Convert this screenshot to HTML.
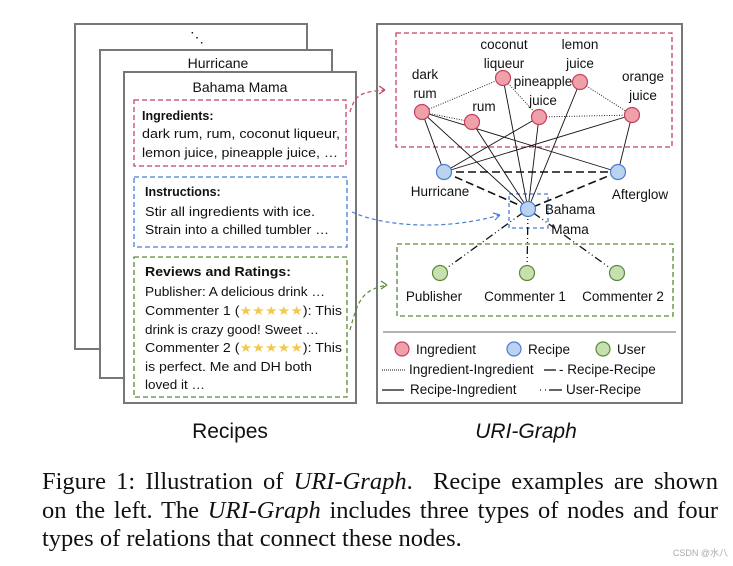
<!DOCTYPE html>
<html><head><meta charset="utf-8"><style>
html,body{margin:0;padding:0;background:#fff;width:733px;height:566px;overflow:hidden;position:relative}
svg{display:block}
.c{font-family:"Liberation Sans",sans-serif;fill:#111}
.cap{position:absolute;left:42px;width:676px;font-family:"Liberation Serif",serif;font-size:24.5px;color:#111;line-height:28px;white-space:nowrap}
.j{text-align:justify;text-align-last:justify;white-space:normal}
</style></head><body>
<svg width="733" height="566" viewBox="0 0 733 566">
<rect x="75" y="24" width="232" height="325" fill="#fff" stroke="#777" stroke-width="2"/>
<text x="197" y="42" class="c" font-size="14" text-anchor="middle">⋱</text>
<rect x="100" y="50" width="232" height="328" fill="#fff" stroke="#777" stroke-width="2"/>
<text x="218" y="68" class="c" font-size="14" text-anchor="middle">Hurricane</text>
<rect x="124" y="72" width="232" height="331" fill="#fff" stroke="#777" stroke-width="2"/>
<text x="240" y="92" class="c" font-size="14" text-anchor="middle">Bahama Mama</text>
<rect x="134" y="100" width="212" height="66" fill="none" stroke="#c5425f" stroke-width="1.3" stroke-dasharray="5,3"/>
<text x="142" y="120" class="c" font-size="12.5" font-weight="bold">Ingredients:</text>
<text x="142" y="138" class="c" font-size="12.5" textLength="198" lengthAdjust="spacingAndGlyphs">dark rum, rum, coconut liqueur,</text>
<text x="142" y="157" class="c" font-size="12.5" textLength="196" lengthAdjust="spacingAndGlyphs">lemon juice, pineapple juice, …</text>
<rect x="134" y="177" width="213" height="70" fill="none" stroke="#4a7dd6" stroke-width="1.3" stroke-dasharray="5,3"/>
<text x="145" y="196" class="c" font-size="12.5" font-weight="bold">Instructions:</text>
<text x="145" y="216" class="c" font-size="12.5" textLength="170" lengthAdjust="spacingAndGlyphs">Stir all ingredients with ice.</text>
<text x="145" y="234" class="c" font-size="12.5" textLength="184" lengthAdjust="spacingAndGlyphs">Strain into a chilled tumbler …</text>
<rect x="134" y="257" width="213" height="140" fill="none" stroke="#5d8a3a" stroke-width="1.3" stroke-dasharray="5,3"/>
<text x="145" y="276" class="c" font-size="12.5" font-weight="bold" textLength="146" lengthAdjust="spacingAndGlyphs">Reviews and Ratings:</text>
<text x="145" y="296" class="c" font-size="12.5" textLength="180" lengthAdjust="spacingAndGlyphs">Publisher: A delicious drink …</text>
<text x="145" y="315" class="c" font-size="12.5" textLength="197" lengthAdjust="spacingAndGlyphs">Commenter 1 (<tspan fill="#f2c94c">★★★★★</tspan>): This</text>
<text x="145" y="334" class="c" font-size="12.5" textLength="174" lengthAdjust="spacingAndGlyphs">drink is crazy good! Sweet …</text>
<text x="145" y="352" class="c" font-size="12.5" textLength="197" lengthAdjust="spacingAndGlyphs">Commenter 2 (<tspan fill="#f2c94c">★★★★★</tspan>): This</text>
<text x="145" y="371" class="c" font-size="12.5" textLength="167" lengthAdjust="spacingAndGlyphs">is perfect. Me and DH both</text>
<text x="145" y="389" class="c" font-size="12.5" textLength="60" lengthAdjust="spacingAndGlyphs">loved it …</text>
<path d="M350 112 C355 95,360 92,385 90" fill="none" stroke="#c5425f" stroke-width="1.2" stroke-dasharray="4,3"/>
<path d="M385 90 l-6 -4 M385 90 l-6 4" stroke="#c5425f" stroke-width="1.2" fill="none"/>
<path d="M352 212 C380 225,440 232,500 215" fill="none" stroke="#4a7dd6" stroke-width="1.2" stroke-dasharray="4,3"/>
<path d="M500 215 l-7 -2 M500 215 l-5 5" stroke="#4a7dd6" stroke-width="1.2" fill="none"/>
<path d="M350 330 C358 300,362 290,387 285" fill="none" stroke="#5d8a3a" stroke-width="1.2" stroke-dasharray="4,3"/>
<path d="M387 285 l-6 -4 M387 285 l-6 4" stroke="#5d8a3a" stroke-width="1.2" fill="none"/>
<rect x="377" y="24" width="305" height="379" fill="none" stroke="#777" stroke-width="2"/>
<rect x="396" y="33" width="276" height="114" fill="none" stroke="#c5425f" stroke-width="1.3" stroke-dasharray="5,3"/>
<rect x="397" y="244" width="276" height="72" fill="none" stroke="#5d8a3a" stroke-width="1.3" stroke-dasharray="5,3"/>
<rect x="509" y="194" width="39" height="34" fill="none" stroke="#4a7dd6" stroke-width="1.3" stroke-dasharray="4,3"/>
<g stroke="#111" stroke-width="0.9" stroke-dasharray="1,1.5" fill="none">
<line x1="422" y1="112" x2="503" y2="78"/><line x1="422" y1="112" x2="472" y2="122"/>
<line x1="503" y1="78" x2="539" y2="117"/>
<line x1="539" y1="117" x2="632" y2="115"/><line x1="580" y1="82" x2="632" y2="115"/>
</g>
<g stroke="#111" stroke-width="0.9" fill="none">
<line x1="422" y1="112" x2="444" y2="172"/><line x1="422" y1="112" x2="528" y2="209"/>
<line x1="472" y1="122" x2="528" y2="209"/><line x1="503" y1="78" x2="528" y2="209"/>
<line x1="580" y1="82" x2="528" y2="209"/><line x1="539" y1="117" x2="528" y2="209"/>
<line x1="539" y1="117" x2="444" y2="172"/><line x1="422" y1="112" x2="618" y2="172"/>
<line x1="632" y1="115" x2="444" y2="172"/><line x1="632" y1="115" x2="618" y2="172"/>
</g>
<g stroke="#111" stroke-width="1.6" stroke-dasharray="8,4" fill="none">
<line x1="444" y1="172" x2="618" y2="172"/><line x1="444" y1="172" x2="528" y2="209"/><line x1="618" y1="172" x2="528" y2="209"/>
</g>
<g stroke="#111" stroke-width="1.3" stroke-dasharray="8,3,1,3,1,3" fill="none">
<line x1="440" y1="273" x2="528" y2="209"/><line x1="527" y1="273" x2="528" y2="209"/><line x1="617" y1="273" x2="528" y2="209"/>
</g>
<g stroke-width="1.2">
<g fill="#f0a0a8" stroke="#c5425f">
<circle cx="422" cy="112" r="7.5"/><circle cx="472" cy="122" r="7.5"/><circle cx="503" cy="78" r="7.5"/>
<circle cx="580" cy="82" r="7.5"/><circle cx="539" cy="117" r="7.5"/><circle cx="632" cy="115" r="7.5"/>
</g>
<g fill="#bcd3ef" stroke="#4a7dd6">
<circle cx="444" cy="172" r="7.5"/><circle cx="618" cy="172" r="7.5"/><circle cx="528" cy="209" r="7.5"/>
</g>
<g fill="#c6e0b0" stroke="#5d8a3a">
<circle cx="440" cy="273" r="7.5"/><circle cx="527" cy="273" r="7.5"/><circle cx="617" cy="273" r="7.5"/>
</g>
</g>
<g class="c" font-size="13.5" text-anchor="middle">
<text x="425" y="79">dark</text><text x="425" y="98">rum</text>
<text x="484" y="111">rum</text>
<text x="504" y="49">coconut</text><text x="504" y="68">liqueur</text>
<text x="580" y="49">lemon</text><text x="580" y="68">juice</text>
<text x="543" y="86">pineapple</text><text x="543" y="105">juice</text>
<text x="643" y="81">orange</text><text x="643" y="100">juice</text>
<text x="440" y="196">Hurricane</text><text x="640" y="199">Afterglow</text>
<text x="570" y="214">Bahama</text><text x="570" y="234">Mama</text>
<text x="434" y="301">Publisher</text><text x="525" y="301">Commenter 1</text><text x="623" y="301">Commenter 2</text>
</g>
<line x1="383" y1="332" x2="676" y2="332" stroke="#888" stroke-width="1.3"/>
<g stroke-width="1.2">
<circle cx="402" cy="349" r="7" fill="#f0a0a8" stroke="#c5425f"/>
<circle cx="514" cy="349" r="7" fill="#bcd3ef" stroke="#4a7dd6"/>
<circle cx="603" cy="349" r="7" fill="#c6e0b0" stroke="#5d8a3a"/>
</g>
<g class="c" font-size="13.5">
<text x="416" y="354">Ingredient</text><text x="528" y="354">Recipe</text><text x="617" y="354">User</text>
<text x="409" y="374">Ingredient-Ingredient</text><text x="559" y="374">- Recipe-Recipe</text>
<text x="410" y="394">Recipe-Ingredient</text><text x="566" y="394">User-Recipe</text>
</g>
<line x1="382" y1="370" x2="405" y2="370" stroke="#111" stroke-width="1" stroke-dasharray="1,1"/>
<line x1="544" y1="370" x2="556" y2="370" stroke="#111" stroke-width="1.3"/>
<line x1="382" y1="390" x2="404" y2="390" stroke="#111" stroke-width="1.3"/>
<line x1="540" y1="390" x2="546" y2="390" stroke="#111" stroke-width="1.3" stroke-dasharray="1,4"/>
<line x1="549" y1="390" x2="562" y2="390" stroke="#111" stroke-width="1.3"/>
<text x="230" y="438" class="c" font-size="21" text-anchor="middle">Recipes</text>
<text x="526" y="438" class="c" font-size="21" font-style="italic" text-anchor="middle">URI-Graph</text>
<text x="728" y="556" class="c" font-size="9" text-anchor="end" style="fill:#aaa">CSDN @水八</text>
</svg>
<div class="cap j" style="top:468px">Figure 1: Illustration of <i>URI-Graph</i>.&nbsp; Recipe examples are shown</div>
<div class="cap j" style="top:497px">on the left. The <i>URI-Graph</i> includes three types of nodes and four</div>
<div class="cap" style="top:525px">types of relations that connect these nodes.</div>
</body></html>
